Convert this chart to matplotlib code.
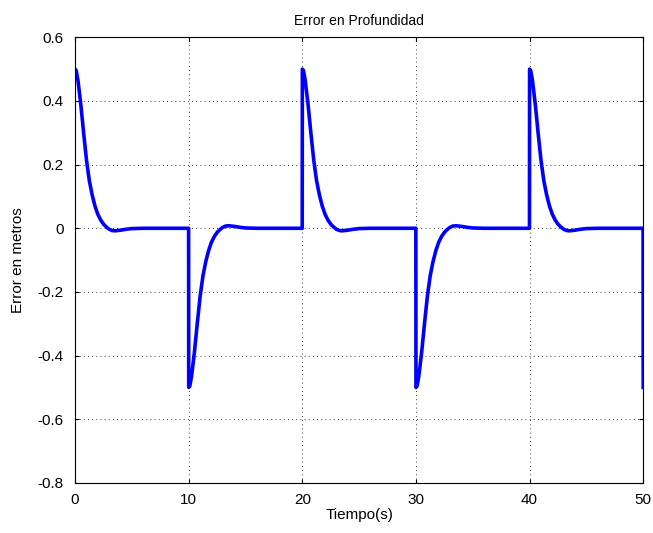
import numpy as np
import matplotlib
matplotlib.use("Agg")
from matplotlib import pyplot as plt

plt.rcParams['font.family'] = ['Liberation Sans', 'DejaVu Sans']

# Respuesta del error tras cada cambio de referencia (tiempo desde el cambio, error)
t_resp = [0.0, 0.1, 0.25, 0.5, 0.75, 1.0, 1.25, 1.5, 1.75, 2.0, 2.25, 2.5,
          2.75, 3.0, 3.25, 3.5, 4.0, 4.5, 5.0, 6.0, 9.99]
e_resp = [0.5, 0.495, 0.465, 0.39, 0.30, 0.215, 0.15, 0.105, 0.07, 0.044, 0.026,
          0.013, 0.004, -0.003, -0.007, -0.008, -0.006, -0.003, -0.001, 0.0, 0.0]

# Instantes de cambio de la referencia y signo del salto
t_cambio = [0, 10, 20, 30, 40]
signo = [1, -1, 1, -1, 1]

t = []
e = []
for t0, s in zip(t_cambio, signo):
    t += [t0 + v for v in t_resp]
    e += [s * v for v in e_resp]
# ultimo salto al final de la simulacion
t += [50.0]
e += [-0.5]

fig = plt.figure(figsize=(6.53, 5.33), dpi=100)
ax = fig.add_axes([0.115, 0.094, 0.87, 0.836])
ax.plot(t, e, color='#0000ff', linewidth=2.6)

ax.set_xlim(0, 50)
ax.set_ylim(-0.8, 0.6)
ax.set_xticks([0, 10, 20, 30, 40, 50])
ax.set_yticks(np.arange(-0.8, 0.61, 0.2))
ax.set_yticklabels(['-0.8', '-0.6', '-0.4', '-0.2', '0', '0.2', '0.4', '0.6'])
ax.grid(True, color='black', linestyle=(0, (1, 4)), linewidth=0.6)
ax.tick_params(direction='in', top=True, right=True, labelsize=11, length=3)
ax.tick_params(axis='y', pad=8)
ax.tick_params(axis='x', pad=7)
for sp in ax.spines.values():
    sp.set_linewidth(0.8)

ax.set_title("Error en Profundidad", fontsize=10, pad=9)
ax.set_xlabel("Tiempo(s)", fontsize=11, labelpad=1)
ax.set_ylabel("Error en metros", fontsize=11, labelpad=9)

fig.savefig("out.png", dpi=100)
